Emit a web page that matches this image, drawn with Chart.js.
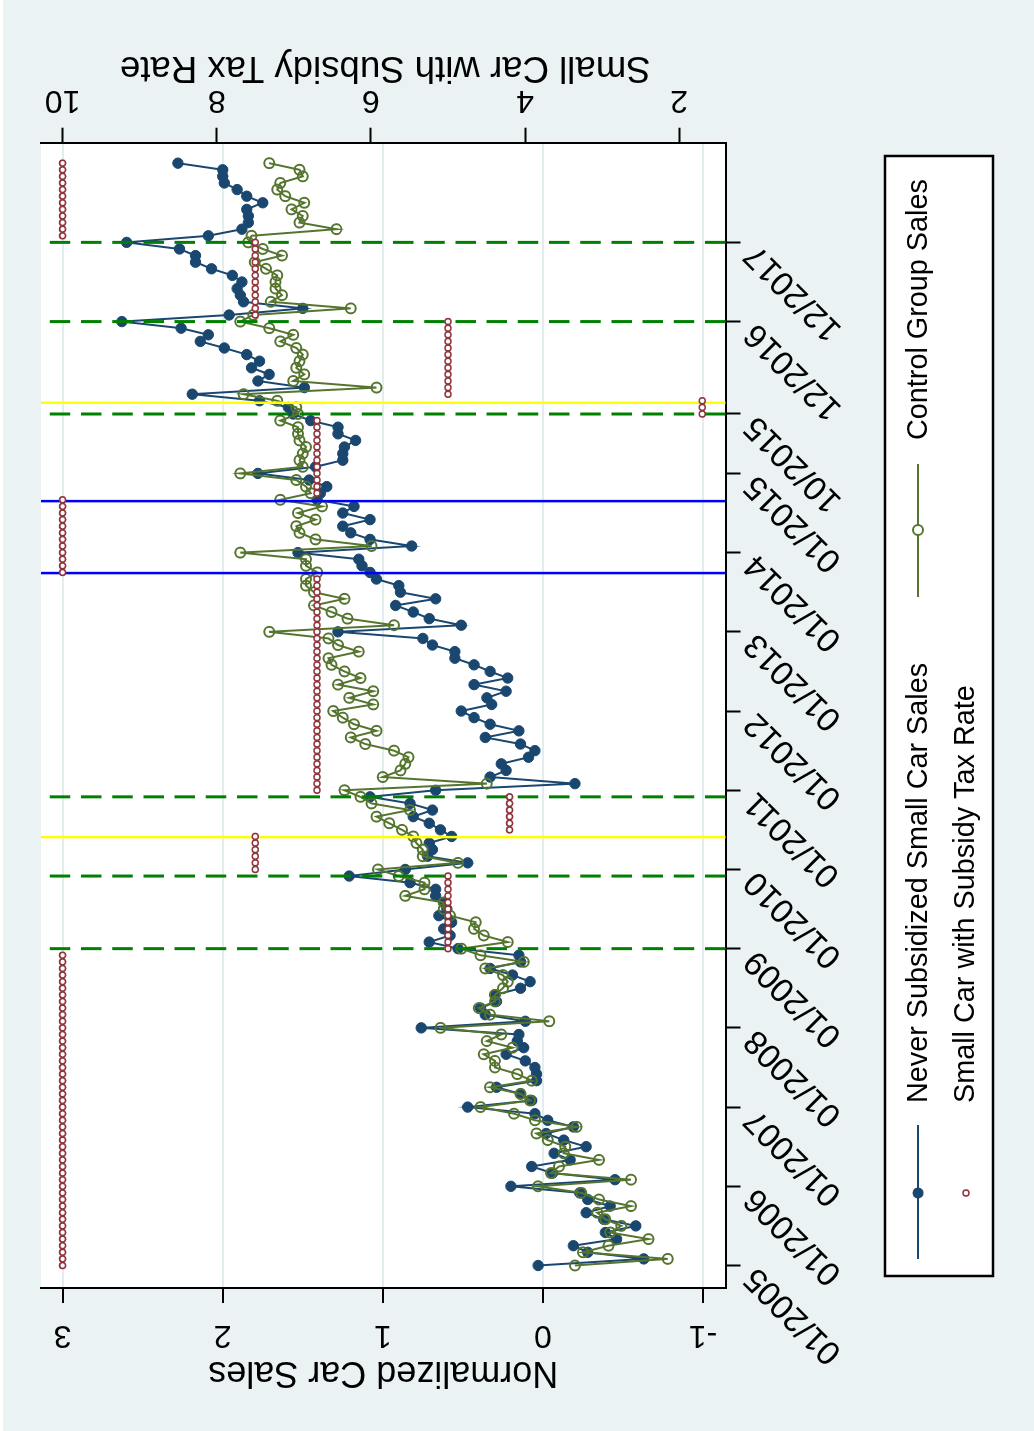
<!DOCTYPE html>
<html>
<head>
<meta charset="utf-8">
<script src="https://cdn.jsdelivr.net/npm/chart.js@4.4.1/dist/chart.umd.min.js"></script>
<style>
  html, body { margin: 0; padding: 0; width: 1034px; height: 1431px; overflow: hidden; background: #ffffff; }
  /* The graph is laid out landscape and turned a quarter turn counter-clockwise */
  #frame { position: absolute; left: 0; top: 0; width: 1431px; height: 1034px;
           transform-origin: 0 0; transform: translate(0px, 1431px) rotate(-90deg); }
  canvas { display: block; }
</style>
</head>
<body>
<div id="frame"><canvas id="chart" width="1431" height="1034"></canvas></div>
<script>
// Monthly observations, 01/2005 .. 12/2018 (index 0 = 01/2005)
const neverSubsidized = [
  0.03, -0.63, -0.28, -0.19, -0.46, -0.39, -0.58, -0.38, -0.27, -0.42, -0.28, -0.23,
  0.20, -0.45, -0.06, 0.07, -0.17, -0.07, -0.27, -0.13, -0.02, -0.19, -0.03, 0.05,
  0.47, 0.07, 0.14, 0.29, 0.04, 0.04, 0.05, 0.11, 0.23, 0.12, 0.16, 0.15,
  0.76, 0.11, 0.36, 0.39, 0.29, 0.30, 0.14, 0.08, 0.19, 0.33, 0.14, 0.15,
  0.53, 0.71, 0.58, 0.62, 0.57, 0.65, 0.60, 0.62, 0.67, 0.67, 0.83, 1.21,
  0.86, 0.47, 0.72, 0.69, 0.71, 0.57, 0.64, 0.71, 0.81, 0.69, 0.83, 1.08,
  0.67, -0.20, 0.33, 0.23, 0.26, 0.09, 0.05, 0.14, 0.36, 0.15, 0.33, 0.43,
  0.51, 0.32, 0.35, 0.23, 0.43, 0.22, 0.33, 0.43, 0.55, 0.55, 0.69, 0.75,
  1.28, 0.51, 0.71, 0.81, 0.92, 0.67, 0.89, 0.90, 1.04, 1.08, 1.13, 1.15,
  1.53, 0.82, 1.08, 1.20, 1.25, 1.08, 1.25, 1.18, 1.41, 1.39, 1.35, 1.46,
  1.78, 1.42, 1.25, 1.25, 1.24, 1.17, 1.28, 1.28, 1.45, 1.56, 1.59, 1.77,
  2.19, 1.49, 1.78, 1.71, 1.82, 1.77, 1.85, 1.99, 2.14, 2.09, 2.26, 2.63,
  1.96, 1.50, 1.87, 1.89, 1.91, 1.88, 1.94, 2.07, 2.17, 2.17, 2.27, 2.60,
  2.09, 1.88, 1.84, 1.84, 1.85, 1.75, 1.85, 1.91, 1.99, 2.00, 2.00, 2.28
];
const controlGroup = [
  -0.20, -0.78, -0.25, -0.41, -0.66, -0.42, -0.49, -0.39, -0.34, -0.55, -0.35, -0.24,
  0.03, -0.55, -0.05, -0.10, -0.35, -0.13, -0.14, -0.03, 0.04, -0.21, 0.05, 0.18,
  0.39, 0.08, 0.14, 0.33, 0.07, 0.16, 0.30, 0.30, 0.37, 0.19, 0.35, 0.26,
  0.64, -0.04, 0.33, 0.40, 0.30, 0.30, 0.25, 0.22, 0.25, 0.36, 0.12, 0.39,
  0.51, 0.22, 0.37, 0.43, 0.42, 0.58, 0.62, 0.62, 0.86, 0.74, 0.74, 0.90,
  1.03, 0.53, 0.75, 0.75, 0.79, 0.81, 0.88, 0.96, 1.04, 0.83, 1.07, 1.14,
  1.24, 0.35, 1.00, 0.89, 0.86, 0.84, 0.93, 1.11, 1.20, 1.04, 1.18, 1.25,
  1.31, 1.06, 1.21, 1.06, 1.28, 1.14, 1.24, 1.32, 1.34, 1.15, 1.28, 1.34,
  1.71, 0.93, 1.22, 1.32, 1.43, 1.24, 1.43, 1.48, 1.48, 1.41, 1.48, 1.48,
  1.89, 1.07, 1.42, 1.52, 1.54, 1.42, 1.53, 1.38, 1.64, 1.45, 1.48, 1.54,
  1.89, 1.50, 1.52, 1.50, 1.48, 1.52, 1.53, 1.53, 1.64, 1.53, 1.54, 1.66,
  1.87, 1.04, 1.56, 1.49, 1.54, 1.52, 1.50, 1.54, 1.64, 1.56, 1.71, 1.89,
  1.81, 1.20, 1.70, 1.63, 1.67, 1.67, 1.66, 1.73, 1.80, 1.63, 1.75, 1.84,
  1.82, 1.29, 1.52, 1.50, 1.57, 1.49, 1.61, 1.66, 1.64, 1.50, 1.52, 1.71
];
const subsidyTaxRate = [
  10, 10, 10, 10, 10, 10, 10, 10, 10, 10, 10, 10,
  10, 10, 10, 10, 10, 10, 10, 10, 10, 10, 10, 10,
  10, 10, 10, 10, 10, 10, 10, 10, 10, 10, 10, 10,
  10, 10, 10, 10, 10, 10, 10, 10, 10, 10, 10, 10,
  5, 5, 5, 5, 5, 5, 5, 5, 5, 5, 5, 5,
  7.5, 7.5, 7.5, 7.5, 7.5, 7.5, 4.2, 4.2, 4.2, 4.2, 4.2, 4.2,
  6.7, 6.7, 6.7, 6.7, 6.7, 6.7, 6.7, 6.7, 6.7, 6.7, 6.7, 6.7,
  6.7, 6.7, 6.7, 6.7, 6.7, 6.7, 6.7, 6.7, 6.7, 6.7, 6.7, 6.7,
  6.7, 6.7, 6.7, 6.7, 6.7, 6.7, 6.7, 6.7, 6.7, 10, 10, 10,
  10, 10, 10, 10, 10, 10, 10, 10, 10, 6.7, 6.7, 6.7,
  6.7, 6.7, 6.7, 6.7, 6.7, 6.7, 6.7, 6.7, 6.7, 1.7, 1.7, 1.7,
  5, 5, 5, 5, 5, 5, 5, 5, 5, 5, 5, 5,
  7.5, 7.5, 7.5, 7.5, 7.5, 7.5, 7.5, 7.5, 7.5, 7.5, 7.5, 7.5,
  10, 10, 10, 10, 10, 10, 10, 10, 10, 10, 10, 10
];

// Time axis ticks (month index) and their labels
const timeTickMonths = [0, 12, 24, 36, 48, 60, 72, 84, 96, 108, 120, 129, 143, 155];
const timeTickLabels = ['01/2005', '01/2006', '01/2007', '01/2008', '01/2009', '01/2010', '01/2011',
                        '01/2012', '01/2013', '01/2014', '01/2015', '10/2015', '12/2016', '12/2017'];
const salesTicks = [-1, 0, 1, 2, 3];
const taxTicks = [2, 4, 6, 8, 10];

// Policy markers on the time axis (month index)
const dashedLineMonths = [48, 59, 71, 129, 143, 155];
const yellowLineMonths = [64.9, 130.7];
const blueLineMonths = [104.9, 115.8];

const NAVY = '#1A476F', FOREST = '#55752F', MAROON = '#90353B';
const BG = '#EAF2F3', GRID = '#E3ECEF';
const FONT = "'Liberation Sans', Arial, Helvetica, sans-serif";

function drawText(ctx, str, x, y, rot, size, align, baseline) {
  ctx.save();
  ctx.translate(x, y);
  ctx.rotate(rot);
  ctx.font = size + 'px ' + FONT;
  ctx.fillStyle = '#000';
  ctx.textAlign = align;
  ctx.textBaseline = baseline;
  ctx.fillText(str, 0, 0);
  ctx.restore();
}

const backdrop = {
  id: 'backdrop',
  beforeDraw(chart) {
    const { ctx, chartArea: a } = chart;
    ctx.save();
    ctx.fillStyle = BG;
    ctx.fillRect(0, 0, chart.width, chart.height);
    ctx.fillStyle = '#ffffff';
    ctx.fillRect(0, 0, chart.width, 3);
    ctx.fillRect(a.left, a.top, a.right - a.left, a.bottom - a.top);
    ctx.restore();
  }
};

// Vertical reference lines, drawn over the two sales series
const refLines = {
  id: 'refLines',
  afterDatasetDraw(chart, args) {
    if (args.index !== 1) return;
    const { ctx, chartArea: a, scales: { x } } = chart;
    const line = (m, color, width, dash) => {
      const px = x.getPixelForValue(m);
      ctx.save();
      ctx.beginPath();
      ctx.strokeStyle = color;
      ctx.lineWidth = width;
      ctx.setLineDash(dash);
      ctx.moveTo(px, a.bottom);
      ctx.lineTo(px, a.top);
      ctx.stroke();
      ctx.restore();
    };
    dashedLineMonths.forEach(m => line(m, '#008000', 3, [20.5, 10.7]));
    yellowLineMonths.forEach(m => line(m, '#FFFF00', 2.5, []));
    blueLineMonths.forEach(m => line(m, '#0000FF', 2.5, []));
  }
};

const axisText = {
  id: 'axisText',
  afterDraw(chart) {
    const { ctx, chartArea: a, scales: { x, y, y2 } } = chart;
    timeTickMonths.forEach((m, i) => {
      drawText(ctx, timeTickLabels[i], x.getPixelForValue(m) - 7, a.bottom + 25, -Math.PI / 4, 33.5, 'right', 'middle');
    });
    salesTicks.forEach(v => drawText(ctx, String(v), 96, y.getPixelForValue(v), -Math.PI / 2, 32, 'center', 'middle'));
    taxTicks.forEach(v => drawText(ctx, String(v), 1331.5, y2.getPixelForValue(v), -Math.PI / 2, 32, 'center', 'middle'));
    const midY = (a.top + a.bottom) / 2;
    drawText(ctx, 'Normalized Car Sales', 59, midY, -Math.PI / 2, 36, 'center', 'middle');
    drawText(ctx, 'Small Car with Subsidy Tax Rate', 1363.5, midY + 2, -Math.PI / 2, 36.6, 'center', 'middle');

    // legend
    ctx.save();
    ctx.fillStyle = '#ffffff';
    ctx.fillRect(155, 885, 1120, 108);
    ctx.strokeStyle = '#000';
    ctx.lineWidth = 2.5;
    ctx.strokeRect(155, 885, 1120, 108);
    ctx.lineWidth = 2;
    ctx.strokeStyle = NAVY;
    ctx.beginPath(); ctx.moveTo(172, 918); ctx.lineTo(306, 918); ctx.stroke();
    ctx.fillStyle = NAVY;
    ctx.beginPath(); ctx.arc(238, 918, 5.5, 0, Math.PI * 2); ctx.fill();
    ctx.strokeStyle = FOREST;
    ctx.beginPath(); ctx.moveTo(834, 918); ctx.lineTo(967, 918); ctx.stroke();
    ctx.fillStyle = '#ffffff';
    ctx.beginPath(); ctx.arc(901, 918, 5, 0, Math.PI * 2); ctx.fill(); ctx.stroke();
    ctx.strokeStyle = MAROON; ctx.lineWidth = 1.6;
    ctx.beginPath(); ctx.arc(238, 966, 3, 0, Math.PI * 2); ctx.fill(); ctx.stroke();
    ctx.restore();
    drawText(ctx, 'Never Subsidized Small Car Sales', 328, 919, 0, 28.8, 'left', 'middle');
    drawText(ctx, 'Control Group Sales', 991, 919, 0, 28.8, 'left', 'middle');
    drawText(ctx, 'Small Car with Subsidy Tax Rate', 328, 966, 0, 28.8, 'left', 'middle');
  }
};

const toPoints = arr => arr.map((v, i) => ({ x: i, y: v }));
const fixedTicks = vals => scale => { scale.ticks = vals.map(v => ({ value: v })); };

new Chart(document.getElementById('chart'), {
  type: 'line',
  data: {
    datasets: [
      {
        label: 'Small Car with Subsidy Tax Rate',
        data: toPoints(subsidyTaxRate),
        yAxisID: 'y2',
        showLine: false,
        pointStyle: 'circle',
        pointRadius: 3,
        pointBorderWidth: 1.6,
        pointBorderColor: MAROON,
        pointBackgroundColor: '#ffffff'
      },
      {
        label: 'Control Group Sales',
        data: toPoints(controlGroup),
        yAxisID: 'y',
        borderColor: FOREST,
        borderWidth: 2,
        pointStyle: 'circle',
        pointRadius: 5,
        pointBorderWidth: 2,
        pointBorderColor: FOREST,
        pointBackgroundColor: 'rgba(255,255,255,0)',
        tension: 0
      },
      {
        label: 'Never Subsidized Small Car Sales',
        data: toPoints(neverSubsidized),
        yAxisID: 'y',
        borderColor: NAVY,
        borderWidth: 2,
        pointStyle: 'circle',
        pointRadius: 5.2,
        pointBorderWidth: 1,
        pointBorderColor: NAVY,
        pointBackgroundColor: NAVY,
        tension: 0
      }
    ]
  },
  options: {
    responsive: false,
    animation: false,
    devicePixelRatio: 1,
    layout: { padding: { top: 41, left: 0, right: 0, bottom: 0 } },
    plugins: { legend: { display: false }, tooltip: { enabled: false } },
    scales: {
      x: {
        type: 'linear', position: 'bottom', min: -3.41, max: 170.1,
        afterBuildTicks: fixedTicks(timeTickMonths),
        afterFit: s => { s.height = 308.5; },
        ticks: { display: false },
        grid: { display: true, drawOnChartArea: false, drawTicks: true, tickLength: 15, tickColor: '#000', tickWidth: 2 },
        border: { display: true, color: '#000', width: 2 }
      },
      y: {
        type: 'linear', position: 'left', min: -1.1405, max: 3.135,
        afterBuildTicks: fixedTicks(salesTicks),
        afterFit: s => { s.width = 143; },
        ticks: { display: false },
        grid: { display: true, drawOnChartArea: true, color: GRID, lineWidth: 2, drawTicks: true, tickLength: 15, tickColor: '#000', tickWidth: 2 },
        border: { display: true, color: '#000', width: 2 }
      },
      y2: {
        type: 'linear', position: 'right', min: 1.399, max: 10.28,
        afterBuildTicks: fixedTicks(taxTicks),
        afterFit: s => { s.width = 142.7; },
        ticks: { display: false },
        grid: { display: true, drawOnChartArea: false, drawTicks: true, tickLength: 15, tickColor: '#000', tickWidth: 2 },
        border: { display: true, color: '#000', width: 2 }
      }
    }
  },
  plugins: [backdrop, refLines, axisText]
});
</script>
</body>
</html>
